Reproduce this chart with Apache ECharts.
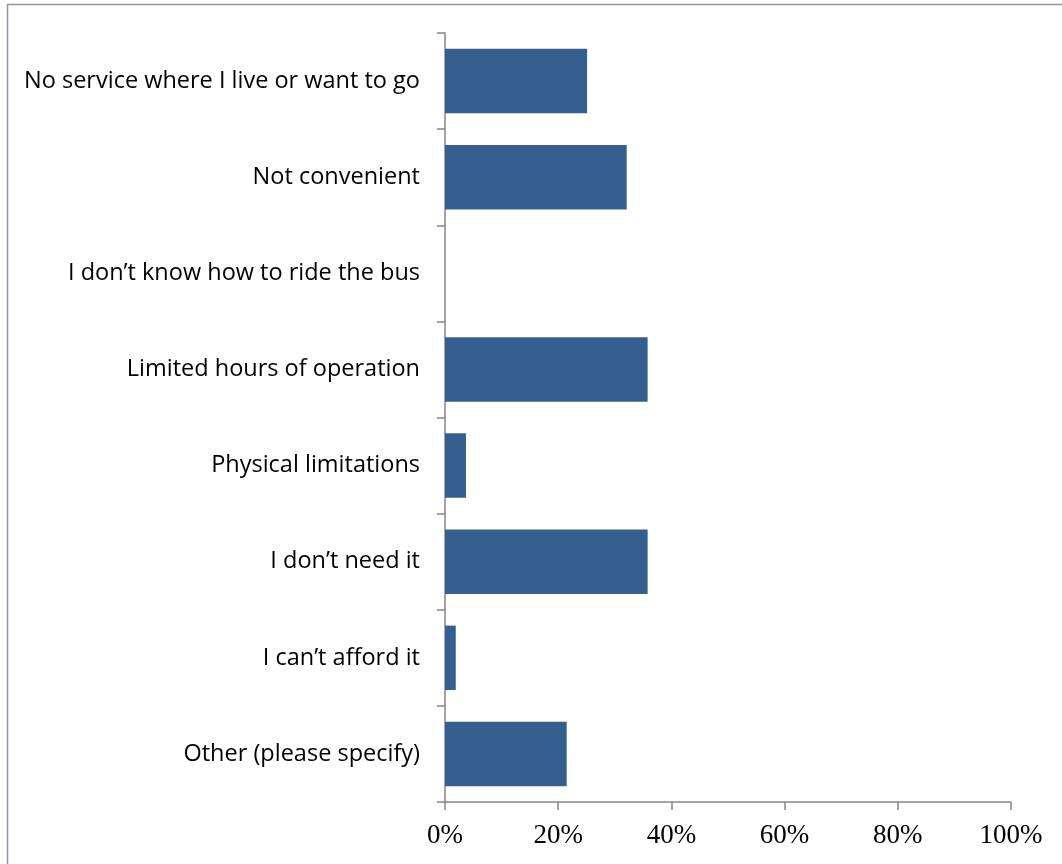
<!DOCTYPE html>
<html>
<head>
<meta charset="utf-8">
<script src="https://cdn.jsdelivr.net/npm/echarts@6/dist/echarts.min.js"></script>
<style>
html,body{margin:0;padding:0;background:#fff;}
#chart{width:1062px;height:864px;}
</style>
</head>
<body>
<div id="chart"></div>
<script>
const categories = [
  "No service where I live or want to go",
  "Not convenient",
  "I don\u2019t know how to ride the bus",
  "Limited hours of operation",
  "Physical limitations",
  "I don\u2019t need it",
  "I can\u2019t afford it",
  "Other (please specify)"
];
const values = [25.1, 32.1, 0, 35.8, 3.7, 35.8, 1.9, 21.5];
const xTicks = [0, 20, 40, 60, 80, 100];

const chart = echarts.init(document.getElementById('chart'));
chart.setOption({
  animation: false,
  graphic: [{
    type: 'rect',
    shape: {x: 7.5, y: 4.5, width: 1070, height: 900},
    style: {fill: 'none', stroke: '#8c96a8', lineWidth: 1.5},
    silent: true
  }],
  grid: {left: 445, right: 51, top: 33, bottom: 62},
  xAxis: {
    type: 'value', min: xTicks[0], max: xTicks[xTicks.length - 1], interval: xTicks[1] - xTicks[0],
    splitLine: {show: false},
    axisLine: {show: true, lineStyle: {color: '#868686', width: 1.5}},
    axisTick: {show: true, length: 8, lineStyle: {color: '#868686', width: 1.5}},
    axisLabel: {
      formatter: v => v + '%',
      fontFamily: 'Liberation Serif', fontSize: 27, color: '#000', margin: 20
    }
  },
  yAxis: {
    type: 'category', data: categories, inverse: true,
    axisLine: {show: true, lineStyle: {color: '#868686', width: 1.5}},
    axisTick: {show: true, length: 8, lineStyle: {color: '#868686', width: 1.5}},
    axisLabel: {fontFamily: 'Open Sans', fontSize: 23.5, color: '#000', margin: 25}
  },
  series: [{
    type: 'bar', data: values, barCategoryGap: '33%',
    itemStyle: {color: '#355f8f'}
  }]
});
</script>
</body>
</html>
